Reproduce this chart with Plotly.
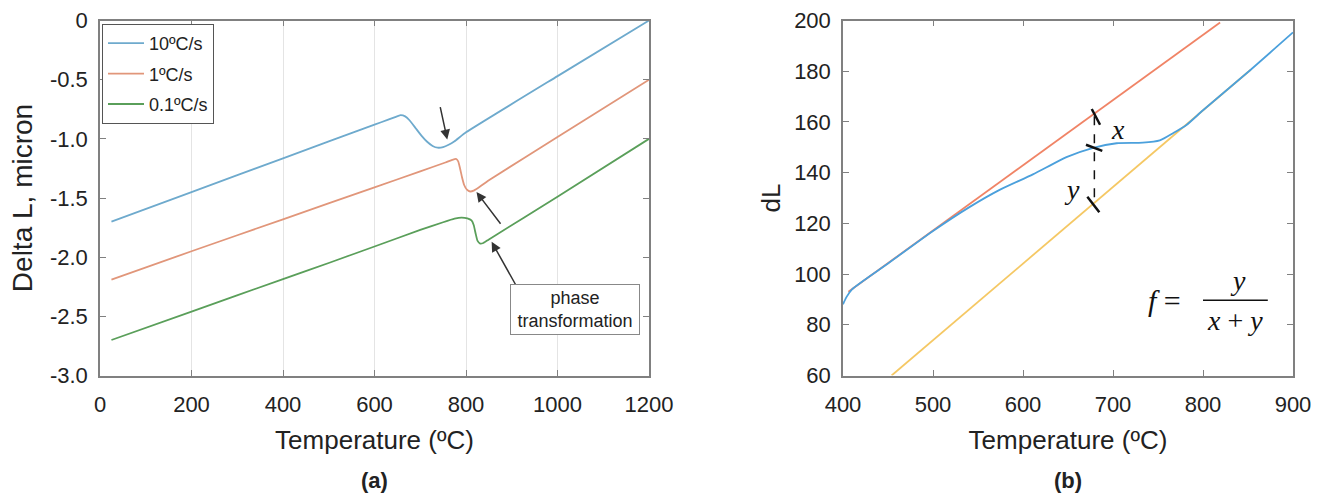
import plotly.graph_objects as go

# ---------------- Panel (a) data ----------------
temp_10 = [25, 200, 400, 600, 630, 645, 657, 667, 677, 690, 703, 715, 727, 738, 750, 762, 775, 800, 1000, 1200]
dl_10 = [-1.70, -1.45, -1.165, -0.88, -0.838, -0.816, -0.80, -0.81, -0.845, -0.91, -0.975, -1.025, -1.06, -1.075,
         -1.07, -1.05, -1.02, -0.945, -0.47, 0.0]

temp_1 = [25, 200, 400, 600, 700, 755, 770, 778, 783, 787, 791, 796, 802, 809, 818, 830, 850, 1000, 1200]
dl_1 = [-2.19, -1.95, -1.68, -1.41, -1.275, -1.20, -1.178, -1.17, -1.19, -1.25, -1.32, -1.39, -1.43, -1.445,
        -1.435, -1.405, -1.35, -0.985, -0.50]

temp_01 = [25, 200, 400, 503, 600, 700, 750, 775, 790, 803, 812, 817, 821, 825, 831, 838, 850, 1000, 1200]
dl_01 = [-2.70, -2.46, -2.185, -2.045, -1.91, -1.77, -1.705, -1.675, -1.665, -1.672, -1.69, -1.73, -1.80,
         -1.86, -1.885, -1.88, -1.85, -1.49, -1.0]

series_names = ["10ºC/s", "1ºC/s", "0.1ºC/s"]
a_xticks = [0, 200, 400, 600, 800, 1000, 1200]
a_yticks = [0, -0.5, -1.0, -1.5, -2.0, -2.5, -3.0]
a_yticktext = ["0", "-0.5", "-1.0", "-1.5", "-2.0", "-2.5", "-3.0"]

# arrows: (head T, head value, tail T, tail value)
arrows_a = [
    (759, -1.005, 743, -0.72),
    (823, -1.45, 878, -1.73),
    (856, -1.87, 911, -2.25),
]
label_a = (1038, -2.44, "phase<br>transformation")

# ---------------- Panel (b) data ----------------
temp_red = [406, 819]
dl_red = [93.0, 199.2]
temp_yel = [454, 853]
dl_yel = [60.0, 180.6]
temp_blue = [400, 404, 410, 450, 500, 540, 574, 611, 649, 678, 704, 733, 752, 767, 782, 800, 853, 900]
dl_blue = [88.1, 91.0, 94.0, 104.2, 117.0, 126.3, 133.2, 139.3, 146.2, 149.8, 151.6, 151.8, 152.7, 155.6, 158.9,
           164.6, 180.6, 195.3]

b_xticks = [400, 500, 600, 700, 800, 900]
b_yticks = [60, 80, 100, 120, 140, 160, 180, 200]

# measurement marks on panel (b): short slanted bars (T0, v0, T1, v1)
mark_bars = [
    (676.4, 165.1, 685.6, 158.9),
    (670.0, 151.0, 688.1, 148.6),
    (671.5, 130.5, 684.8, 124.4),
]
dash_line = (679.3, 162.2, 679.3, 126.8)
x_label = (706, 157.2)
y_label = (654, 133.2)

# formula f = y / (x + y)
formula_f = (757, 89.5)
formula_num = (839, 97.5)
formula_den = (836, 81.8)
formula_bar = (800, 872, 89.7)

# ---------------- colours ----------------
c_blue_a, c_red_a, c_green_a = "#6eaacd", "#e1967a", "#5a9f5a"
c_blue_b, c_red_b, c_yel_b = "#4ba0dc", "#f08466", "#f5c864"
axis_col = "#808080"

W, H = 1330, 496


def px_x(p):
    return p / W


def px_y(p):
    return 1 - p / H


ydom = [px_y(375.5), px_y(20.5)]

fig = go.Figure()

for t, v, c, n in [(temp_10, dl_10, c_blue_a, series_names[0]),
                   (temp_1, dl_1, c_red_a, series_names[1]),
                   (temp_01, dl_01, c_green_a, series_names[2])]:
    fig.add_trace(go.Scatter(x=t, y=v, mode="lines", name=n, legendgroup=n,
                             line=dict(color=c, width=1.8, shape="spline", smoothing=0.4),
                             xaxis="x", yaxis="y"))

fig.add_trace(go.Scatter(x=temp_red, y=dl_red, mode="lines", showlegend=False,
                         line=dict(color=c_red_b, width=1.8), xaxis="x2", yaxis="y2"))
fig.add_trace(go.Scatter(x=temp_yel, y=dl_yel, mode="lines", showlegend=False,
                         line=dict(color=c_yel_b, width=1.8), xaxis="x2", yaxis="y2"))
fig.add_trace(go.Scatter(x=temp_blue, y=dl_blue, mode="lines", showlegend=False,
                         line=dict(color=c_blue_b, width=1.8, shape="spline", smoothing=0.6),
                         xaxis="x2", yaxis="y2"))

sans = "Liberation Sans, Arial, sans-serif"
tickfont = dict(family=sans, size=22, color="#222")
titlefont = dict(family=sans, size=26, color="#222")

common_axis = dict(showline=True, linecolor=axis_col, linewidth=1.5, mirror="ticks",
                   ticks="inside", ticklen=6, tickcolor=axis_col, tickwidth=1.2,
                   tickfont=tickfont, zeroline=False, automargin=False)

fig.update_layout(
    width=W, height=H,
    margin=dict(l=0, r=0, t=0, b=0, autoexpand=False),
    paper_bgcolor="white", plot_bgcolor="white",
    font=dict(family=sans, color="#222"),
    xaxis=dict(domain=[px_x(100), px_x(649)], range=[0, 1200], tickvals=a_xticks,
               showgrid=True, gridcolor="#e4e4e4", gridwidth=1, anchor="y",
               ticklabelstandoff=8,
               title=dict(text="Temperature (ºC)", font=titlefont, standoff=15), **common_axis),
    yaxis=dict(domain=ydom, range=[-3.0, 0], tickvals=a_yticks, ticktext=a_yticktext,
               showgrid=False, anchor="x", ticklabelstandoff=6,
               title=dict(text="Delta L, micron", font=dict(titlefont, size=28), standoff=9), **common_axis),
    xaxis2=dict(domain=[px_x(843), px_x(1293)], range=[400, 900], tickvals=b_xticks,
                showgrid=False, anchor="y2", ticklabelstandoff=8,
                title=dict(text="Temperature (ºC)", font=titlefont, standoff=15), **common_axis),
    yaxis2=dict(domain=ydom, range=[60, 200], tickvals=b_yticks, showgrid=False, anchor="x2",
                ticklabelstandoff=6,
                title=dict(text="dL", font=titlefont, standoff=6), **common_axis),
    legend=dict(x=px_x(102), y=px_y(24), xanchor="left", yanchor="top",
                bgcolor="white", bordercolor="#555", borderwidth=1,
                font=dict(family=sans, size=18, color="#222"),
                tracegroupgap=4, itemwidth=36),
    showlegend=True,
)

annotations = []
for hx, hy, tx, ty in arrows_a:
    annotations.append(dict(x=hx, y=hy, ax=tx, ay=ty, xref="x", yref="y", axref="x", ayref="y",
                            text="", showarrow=True, arrowhead=2, arrowsize=1.3, arrowwidth=1.5,
                            arrowcolor="#333"))
annotations.append(dict(x=label_a[0], y=label_a[1], xref="x", yref="y", text=label_a[2],
                        showarrow=False, bgcolor="white", bordercolor="#888", borderwidth=1,
                        borderpad=3, width=122,
                        font=dict(family=sans, size=18, color="#222")))

serif = "Liberation Serif, Times New Roman, serif"
annotations.append(dict(x=x_label[0], y=x_label[1], xref="x2", yref="y2", text="<i>x</i>",
                        showarrow=False, font=dict(family=serif, size=28, color="#111")))
annotations.append(dict(x=y_label[0], y=y_label[1], xref="x2", yref="y2", text="<i>y</i>",
                        showarrow=False, font=dict(family=serif, size=28, color="#111")))
annotations.append(dict(x=formula_f[0], y=formula_f[1], xref="x2", yref="y2", text="<i>f</i> =",
                        showarrow=False, font=dict(family=serif, size=30, color="#111")))
annotations.append(dict(x=formula_num[0], y=formula_num[1], xref="x2", yref="y2", text="<i>y</i>",
                        showarrow=False, font=dict(family=serif, size=28, color="#111")))
annotations.append(dict(x=formula_den[0], y=formula_den[1], xref="x2", yref="y2",
                        text="<i>x</i> + <i>y</i>",
                        showarrow=False, font=dict(family=serif, size=28, color="#111")))

annotations.append(dict(x=px_x((100 + 649) / 2), y=px_y(480), xref="paper", yref="paper",
                        xanchor="center", yanchor="middle",
                        text="<b>(a)</b>", showarrow=False,
                        font=dict(family=sans, size=22, color="#222")))
annotations.append(dict(x=px_x((843 + 1293) / 2), y=px_y(480), xref="paper", yref="paper",
                        xanchor="center", yanchor="middle",
                        text="<b>(b)</b>", showarrow=False,
                        font=dict(family=sans, size=22, color="#222")))
fig.update_layout(annotations=annotations)

shapes = []
for x0, y0, x1, y1 in mark_bars:
    shapes.append(dict(type="line", xref="x2", yref="y2", x0=x0, y0=y0, x1=x1, y1=y1,
                       line=dict(color="#111", width=2.5)))
shapes.append(dict(type="line", xref="x2", yref="y2", x0=dash_line[0], y0=dash_line[1],
                   x1=dash_line[2], y1=dash_line[3], line=dict(color="#111", width=1.5, dash="dash")))
shapes.append(dict(type="line", xref="x2", yref="y2", x0=formula_bar[0], y0=formula_bar[2],
                   x1=formula_bar[1], y1=formula_bar[2], line=dict(color="#111", width=1.5)))
fig.update_layout(shapes=shapes)

# remove the browser's default 8px page margin so the figure fills the window exactly
fig.write_html("out.html",
               config={"displayModeBar": False},
               post_script="document.body.style.margin='0';document.body.style.overflow='hidden';")
